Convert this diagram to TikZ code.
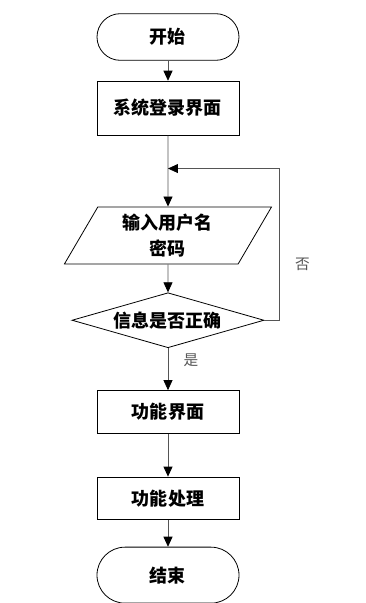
\documentclass[tikz,border=0pt]{standalone}
\usepackage{fontspec}
\usepackage{tikz}
\usetikzlibrary{arrows.meta,positioning,shapes.geometric}
\newfontfamily\cjk{Noto Sans CJK SC}
\definecolor{FlowLine}{HTML}{555555}

\begin{document}
\begin{tikzpicture}[
  node distance=15pt,
  every node/.style={font=\cjk\bfseries\fontsize{13.5}{20}\selectfont},
  term/.style={draw,line width=0.6pt,rounded corners=17.5pt,minimum width=106.5pt,
    minimum height=35pt,align=center},
  proc/.style={draw,line width=0.6pt,minimum width=106.5pt,minimum height=32pt,align=center},
  io/.style={draw,line width=0.6pt,trapezium,trapezium left angle=64,trapezium right angle=116,
    trapezium stretches=true,minimum width=156pt,minimum height=42.75pt,inner sep=0pt,align=center},
  check/.style={draw,line width=0.6pt,diamond,aspect=3.5,minimum width=144pt,
    minimum height=41.25pt,inner sep=0pt,align=center},
  lbl/.style={font=\cjk\fontsize{11}{13}\selectfont,text=FlowLine},
  arrow/.style={-{Triangle[length=7.5pt,width=6.75pt,color=black]},line width=0.6pt,color=FlowLine}
]
  \useasboundingbox (-126pt,27.75pt) rectangle (148.5pt,-424.5pt);
  \node[term] (start) {开始};
  \node[proc,minimum height=40.5pt,below=15pt of start] (login) {系统登录界面};
  \node[io,below=53.25pt of login] (input) {输入用户名\\密码};
  \node[check,below=21pt of input] (verify) {信息是否正确};
  \node[proc,below=31.5pt of verify] (menu) {功能界面};
  \node[proc,below=32.25pt of menu] (work) {功能处理};
  \node[term,minimum height=42pt,rounded corners=21pt,below=20pt of work] (stop) {结束};
  \coordinate[below=24.75pt of login] (join);
  \draw[arrow] (start) -- (login);
  \draw[arrow] (login) -- (input);
  \draw[arrow] (input) -- (verify);
  \draw[arrow] (verify) -- (menu);
  \draw[arrow] (menu) -- (work);
  \draw[arrow] (work) -- (stop);
  \draw[arrow] (verify.east) -- ++(11.25pt,0) |- (join);
  \node[lbl] (no) at ([xshift=28.5pt,yshift=42pt]verify.east) {否};
  \node[lbl] (yes) at ([xshift=17.25pt,yshift=-9pt]verify.south) {是};
\end{tikzpicture}
\end{document}
